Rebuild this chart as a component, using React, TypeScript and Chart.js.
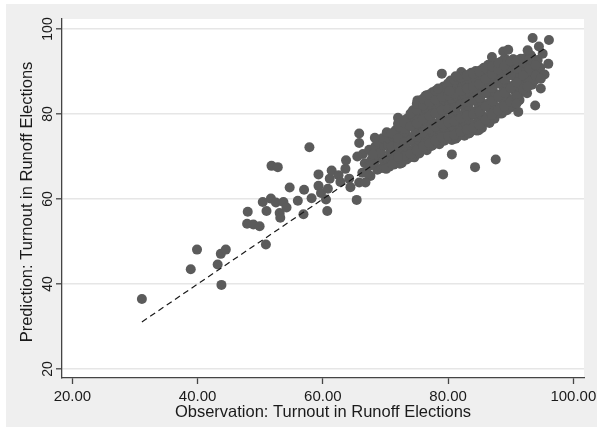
import React, { useEffect, useRef } from "react";
import { Chart, registerables } from "chart.js";

Chart.register(...registerables);

// Axis ticks
const xTickValues = [20, 40, 60, 80, 100];
const yTickValues = [20, 40, 60, 80, 100];

// Axis titles
const xTitle = "Observation: Turnout in Runoff Elections";
const yTitle = "Prediction: Turnout in Runoff Elections";

// 45-degree reference line (observation = prediction), endpoints
const fitLine: [number, number][] = [
  [31.1, 31.1],
  [95.4, 95.4],
];

// Scattered municipalities, [observation, prediction]
const outlierPoints: [number, number][] = [
  [31.1, 36.5], [38.9, 43.5], [39.9, 48.1], [43.2, 44.6], [43.7, 47.1], [44.5, 48.1],
  [43.8, 39.8], [48.0, 57.0], [47.9, 54.2], [48.9, 54.0], [49.9, 53.6], [50.4, 59.3],
  [50.9, 49.3], [51.0, 57.2], [51.7, 60.1], [51.8, 67.8], [52.8, 67.5], [52.5, 59.2],
  [53.1, 56.7], [53.2, 55.6], [53.7, 59.3], [54.2, 58.0], [54.7, 62.7], [56.0, 59.6],
  [57.0, 62.2], [56.9, 56.4], [57.85, 72.2], [58.2, 60.2], [59.3, 63.1], [59.3, 65.8],
  [59.7, 61.4], [60.5, 59.9], [60.7, 57.2], [60.8, 62.4], [61.1, 64.8], [61.4, 66.7],
  [62.5, 65.6], [62.8, 64.0], [63.6, 67.1], [64.2, 64.8], [64.4, 62.8], [63.7, 69.1],
  [65.4, 59.8], [65.8, 63.9], [65.8, 75.4], [65.8, 73.2], [65.5, 70.0], [66.8, 63.9],
  [67.1, 66.0], [67.6, 67.9], [68.0, 70.5], [68.3, 74.4], [70.1, 67.1], [71.1, 68.2],
  [72.0, 69.9], [79.2, 65.8], [80.6, 70.5], [84.3, 67.5], [87.6, 69.3], [79.0, 89.5],
  [81.2, 88.9], [80.2, 85.4], [78.4, 86.0], [87.0, 93.4], [88.8, 94.7], [89.6, 95.1],
  [92.7, 95.0], [93.5, 97.9], [94.5, 95.9], [96.1, 97.4], [95.1, 94.2], [96.0, 91.8],
  [95.4, 89.3], [94.8, 88.3], [94.8, 86.0], [93.9, 82.0], [91.2, 80.5], [92.7, 86.5],
  [90.9, 82.4],
];

// Dense core of the cloud, [observation, prediction]
const clusterPoints: [number, number][] = [
  [66.3, 66.2], [66.7, 68.4], [66.4, 70.6],
  [67.6, 65.4], [67.3, 67.7], [67.8, 69.3], [67.4, 71.6],
  [68.7, 66.9], [68.3, 68.8], [68.6, 70.3], [68.4, 72.4], [68.8, 73.5],
  [69.4, 67.3], [69.7, 69.1], [69.3, 70.9], [69.8, 72.6], [69.5, 74.3],
  [70.6, 67.6], [70.3, 69.5], [70.8, 71.1], [70.4, 72.7], [70.7, 74.1], [70.2, 75.7],
  [71.3, 68.1], [71.7, 69.7], [71.4, 71.5], [71.8, 73.1], [71.2, 74.8], [71.6, 76.2],
  [72.6, 68.5], [72.3, 70.3], [72.8, 71.9], [72.4, 73.5], [72.7, 75.1], [72.2, 76.9], [72.5, 78.5],
  [73.4, 69.3], [73.8, 70.9], [73.3, 72.3], [73.6, 74.1], [73.2, 75.7], [73.7, 77.3], [73.4, 78.9],
  [74.6, 69.8], [74.3, 71.3], [74.7, 73.1], [74.4, 74.7], [74.8, 76.1], [74.2, 77.9], [74.6, 79.3], [74.4, 80.9],
  [75.4, 70.7], [75.7, 72.1], [75.3, 73.9], [75.6, 75.3], [75.8, 77.1], [75.2, 78.5], [75.5, 80.3], [75.7, 81.7], [75.3, 83.1],
  [76.6, 71.5], [76.3, 73.3], [76.8, 74.7], [76.4, 76.5], [76.7, 77.9], [76.2, 79.7], [76.5, 81.1], [76.8, 82.9], [76.4, 84.3],
  [77.3, 72.5], [77.7, 73.9], [77.4, 75.7], [77.8, 77.1], [77.2, 78.9], [77.6, 80.3], [77.3, 82.1], [77.7, 83.5], [77.5, 85.1],
  [78.6, 72.9], [78.3, 74.7], [78.7, 76.1], [78.4, 77.9], [78.8, 79.3], [78.2, 81.1], [78.6, 82.5], [78.4, 84.3], [78.7, 85.7],
  [79.4, 73.7], [79.7, 75.1], [79.3, 76.9], [79.6, 78.3], [79.2, 80.1], [79.8, 81.5], [79.4, 83.3], [79.6, 84.7], [79.3, 86.5],
  [80.6, 73.9], [80.3, 75.7], [80.7, 77.1], [80.4, 78.9], [80.8, 80.3], [80.2, 82.1], [80.6, 83.5], [80.3, 85.3], [80.7, 86.7], [80.4, 87.9],
  [81.4, 74.5], [81.7, 75.9], [81.3, 77.7], [81.6, 79.1], [81.2, 80.9], [81.8, 82.3], [81.4, 84.1], [81.6, 85.5], [81.3, 87.3], [81.7, 88.5],
  [82.6, 74.9], [82.3, 76.7], [82.7, 78.1], [82.4, 79.9], [82.8, 81.3], [82.2, 83.1], [82.6, 84.5], [82.3, 86.3], [82.7, 87.7], [82.4, 89.4],
  [83.4, 75.5], [83.7, 77.3], [83.3, 78.7], [83.6, 80.5], [83.2, 81.9], [83.8, 83.7], [83.4, 85.1], [83.6, 86.9], [83.3, 88.3], [83.7, 89.7],
  [84.6, 76.1], [84.3, 77.5], [84.7, 79.3], [84.4, 80.7], [84.8, 82.5], [84.2, 83.9], [84.6, 85.7], [84.3, 87.1], [84.7, 88.9], [84.4, 90.1],
  [85.4, 76.7], [85.7, 78.5], [85.3, 79.9], [85.6, 81.7], [85.2, 83.1], [85.8, 84.9], [85.4, 86.3], [85.6, 88.1], [85.3, 89.5], [85.7, 90.9],
  [86.6, 77.9], [86.3, 79.3], [86.7, 81.1], [86.4, 82.5], [86.8, 84.3], [86.2, 85.7], [86.6, 87.5], [86.3, 88.9], [86.7, 90.7], [86.4, 91.5],
  [87.4, 78.9], [87.7, 80.7], [87.3, 82.1], [87.6, 83.9], [87.2, 85.3], [87.8, 87.1], [87.4, 88.5], [87.6, 90.3], [87.3, 91.7],
  [88.6, 80.1], [88.3, 81.5], [88.7, 83.3], [88.4, 84.7], [88.8, 86.5], [88.2, 87.9], [88.6, 89.7], [88.4, 91.1], [88.7, 92.5],
  [89.4, 80.9], [89.7, 82.7], [89.3, 84.1], [89.6, 85.9], [89.2, 87.3], [89.8, 89.1], [89.4, 90.5], [89.6, 92.3],
  [90.6, 82.1], [90.3, 83.5], [90.7, 85.3], [90.4, 86.7], [90.8, 88.5], [90.2, 89.9], [90.6, 91.7], [90.4, 92.9],
  [91.4, 83.3], [91.7, 85.1], [91.3, 86.5], [91.6, 88.3], [91.2, 89.7], [91.8, 91.5], [91.4, 92.7],
  [92.6, 84.9], [92.3, 86.7], [92.7, 88.1], [92.4, 89.9], [92.8, 91.3], [92.3, 93.1],
  [93.4, 86.9], [93.7, 88.7], [93.3, 90.1], [93.6, 91.9], [93.2, 93.3],
  [94.4, 89.6], [94.7, 90.9], [94.3, 92.7],
  // ragged upper edge
  [72.0, 79.1], [75.1, 83.2], [76.6, 84.4], [82.1, 89.9], [83.0, 89.1], [84.0, 87.9],
  [85.2, 90.3], [86.4, 91.5], [88.3, 92.2], [89.1, 93.0], [90.4, 92.8], [91.6, 93.0],
  [93.2, 93.8], [94.1, 92.2],
  // ragged lower edge
  [69.8, 67.5], [72.3, 68.3], [74.1, 69.9], [76.0, 71.8], [77.5, 72.6], [79.0, 73.8],
  [81.2, 74.2], [83.3, 75.4], [84.9, 76.2], [86.4, 78.5], [88.3, 80.1], [90.1, 81.6],
  [91.3, 83.2], [92.6, 86.2], [93.8, 87.9],
  // points filling the gaps inside the core
  [71.0, 69.0], [71.0, 72.3], [71.0, 75.5],
  [72.0, 69.4], [72.0, 72.7], [72.0, 74.3], [72.0, 77.7],
  [73.0, 70.1], [73.0, 73.3], [73.0, 76.5], [73.0, 78.0],
  [74.0, 70.6], [74.0, 73.9], [74.0, 77.1], [74.0, 80.1],
  [75.0, 71.5], [75.0, 74.6], [75.0, 77.8], [75.0, 81.0], [75.0, 82.4],
  [76.0, 72.4], [76.0, 75.6], [76.0, 78.8], [76.0, 82.0], [76.0, 83.6],
  [77.0, 73.2], [77.0, 76.4], [77.0, 79.6], [77.0, 82.8], [77.0, 84.6],
  [78.0, 73.8], [78.0, 77.0], [78.0, 80.2], [78.0, 83.4], [78.0, 85.5],
  [79.0, 74.5], [79.0, 77.7], [79.0, 80.9], [79.0, 84.0], [79.0, 86.0],
  [80.0, 74.8], [80.0, 78.0], [80.0, 81.2], [80.0, 84.4], [80.0, 87.2],
  [81.0, 75.1], [81.0, 78.3], [81.0, 81.5], [81.0, 84.8], [81.0, 88.0],
  [82.0, 75.8], [82.0, 79.0], [82.0, 82.2], [82.0, 85.4], [82.0, 88.6],
  [83.0, 76.4], [83.0, 79.6], [83.0, 82.8], [83.0, 86.0], [83.0, 89.0],
  [84.0, 76.8], [84.0, 80.0], [84.0, 83.2], [84.0, 86.4], [84.0, 89.5],
  [85.0, 77.4], [85.0, 80.6], [85.0, 83.8], [85.0, 87.0], [85.0, 90.0],
  [86.0, 78.6], [86.0, 81.8], [86.0, 85.0], [86.0, 88.2], [86.0, 90.8],
  [87.0, 79.8], [87.0, 83.0], [87.0, 86.2], [87.0, 89.4], [87.0, 91.2],
  [88.0, 80.9], [88.0, 84.1], [88.0, 87.3], [88.0, 90.5], [88.0, 92.0],
  [89.0, 81.8], [89.0, 85.0], [89.0, 88.2], [89.0, 91.4],
  [90.0, 82.9], [90.0, 86.1], [90.0, 89.3], [90.0, 92.4],
  [91.0, 84.2], [91.0, 87.4], [91.0, 90.6], [91.0, 92.6],
  [92.0, 85.8], [92.0, 89.0], [92.0, 92.2],
  [93.0, 87.6], [93.0, 90.8], [93.0, 92.9],
  [94.0, 89.0], [94.0, 91.5],
];

const FONT = "'Liberation Sans', Arial, Helvetica, sans-serif";

const framePlugin = {
  id: "stataFrame",
  beforeDraw(chart: any) {
    const { ctx, chartArea } = chart;
    ctx.save();
    ctx.fillStyle = "#ffffff";
    ctx.fillRect(0, 0, chart.width, chart.height);
    ctx.fillStyle = "#efefef";
    ctx.fillRect(6, 4, 591, 423);
    ctx.fillStyle = "#ffffff";
    ctx.fillRect(
      chartArea.left,
      chartArea.top,
      chartArea.right - chartArea.left,
      chartArea.bottom - chartArea.top
    );
    ctx.restore();
  },
  afterDraw(chart: any) {
    const { ctx, chartArea } = chart;
    ctx.save();
    ctx.fillStyle = "#1a1a1a";
    ctx.font = `16.5px ${FONT}`;
    ctx.textAlign = "center";
    ctx.textBaseline = "middle";
    ctx.fillText(xTitle, (chartArea.left + chartArea.right) / 2, 412.5);
    ctx.translate(27, 202);
    ctx.rotate(-Math.PI / 2);
    ctx.fillText(yTitle, 0, 0);
    ctx.restore();
  },
};

export default function App() {
  const canvasRef = useRef<HTMLCanvasElement | null>(null);

  useEffect(() => {
    document.body.style.margin = "0";
    const canvas = canvasRef.current;
    if (!canvas) return;
    const toXY = (p: [number, number]) => ({ x: p[0], y: p[1] });

    const chart = new Chart(canvas, {
      type: "scatter",
      data: {
        datasets: [
          {
            type: "line",
            label: "45-degree line",
            data: fitLine.map(toXY),
            borderColor: "#1a1a1a",
            borderWidth: 1.2,
            borderDash: [6, 4],
            pointRadius: 0,
            fill: false,
          } as any,
          {
            label: "Municipalities",
            data: [...clusterPoints, ...outlierPoints].map(toXY),
            backgroundColor: "#5b5b5b",
            borderWidth: 0,
            pointRadius: 5,
          },
        ],
      },
      options: {
        responsive: false,
        animation: false,
        events: [],
        layout: { padding: { top: 19, right: 18, left: 0, bottom: 0 } },
        plugins: {
          legend: { display: false },
          tooltip: { enabled: false },
          title: { display: false },
        },
        scales: {
          x: {
            type: "linear",
            min: 18.34,
            max: 101.7,
            afterBuildTicks: (axis: any) => {
              axis.ticks = xTickValues.map((v) => ({ value: v }));
            },
            afterFit: (axis: any) => {
              axis.height = 53;
            },
            grid: {
              drawOnChartArea: false,
              drawTicks: true,
              tickLength: 6,
              tickColor: "#444444",
              tickWidth: 1.3,
            },
            border: { display: true, color: "#444444", width: 1.3 },
            ticks: {
              autoSkip: false,
              maxRotation: 0,
              minRotation: 0,
              padding: 4,
              color: "#1a1a1a",
              font: { family: FONT, size: 15 },
              callback: (v: any) => Number(v).toFixed(2),
            },
          },
          y: {
            type: "linear",
            min: 17.9,
            max: 102.35,
            afterBuildTicks: (axis: any) => {
              axis.ticks = yTickValues.map((v) => ({ value: v }));
            },
            afterFit: (axis: any) => {
              axis.width = 62;
            },
            grid: {
              drawOnChartArea: true,
              drawTicks: true,
              tickLength: 6,
              color: "#e6e6e6",
              lineWidth: 1.6,
              tickColor: "#444444",
              tickWidth: 1.3,
            },
            border: { display: true, color: "#444444", width: 1.3 },
            ticks: {
              autoSkip: false,
              minRotation: 90,
              maxRotation: 90,
              crossAlign: "center",
              padding: -4,
              color: "#1a1a1a",
              font: { family: FONT, size: 14 },
              callback: (v: any) => String(v),
            },
          },
        },
      },
      plugins: [framePlugin],
    });

    return () => chart.destroy();
  }, []);

  return (
    <div style={{ width: 602, height: 431, position: "relative" }}>
      <canvas ref={canvasRef} width={602} height={431} style={{ display: "block" }} />
    </div>
  );
}
